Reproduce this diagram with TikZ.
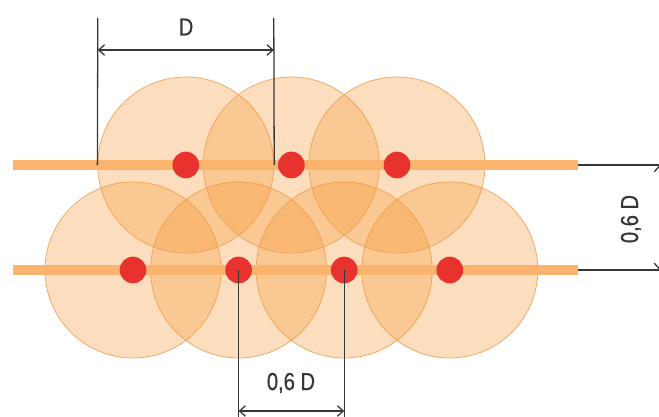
\documentclass[tikz,border=0pt]{standalone}
\usepackage{fontspec}
\setmainfont[FakeStretch=0.82,FakeBold=0.6]{Liberation Sans}
\usetikzlibrary{arrows.meta}
\definecolor{zonecol}{RGB}{246,155,58}
\definecolor{rimcol}{RGB}{238,160,85}
\definecolor{pipecol}{RGB}{250,180,110}
\definecolor{nozzlecol}{RGB}{232,50,45}
\definecolor{dimcol}{RGB}{55,55,55}
\tikzset{
  zone/.style={circle, minimum size=5.28cm, inner sep=0pt, fill=zonecol,
    fill opacity=0.33, draw=rimcol, draw opacity=0.85, line width=0.7pt},
  nozzle/.style={circle, minimum size=0.8cm, inner sep=0pt, fill=nozzlecol},
  pipe/.style={draw=pipecol, line width=0.3cm},
  dimline/.style={draw=dimcol, line width=1.1pt},
  dimarrow/.style={dimline, {Straight Barb[length=5pt,width=9pt]}-{Straight Barb[length=5pt,width=9pt]}},
  dimtext/.style={text=dimcol, inner sep=0pt, font=\fontsize{21}{25}\selectfont}
}
\begin{document}
\begin{tikzpicture}[x=0.03cm,y=-0.03cm]
      \useasboundingbox (0,0) rectangle (659,417);
      % spray zones
      \path
        (133.0,270) node[zone] (z1){}
        (238.6,270) node[zone] (z2){}
        (344.2,270) node[zone] (z3){}
        (449.8,270) node[zone] (z4){}
        (185.8,165) node[zone] (z5){}
        (291.4,165) node[zone] (z6){}
        (397.0,165) node[zone] (z7){};
      % pipes
      \coordinate (p1) at (13,165);
      \coordinate (p2) at (578,165);
      \coordinate (p3) at (13,270);
      \coordinate (p4) at (578,270);
      \draw[pipe] (p1) to (p2);
      \draw[pipe] (p3) to (p4);
      % nozzles
      \path
        (z1.center) node[nozzle] (n1){}
        (z2.center) node[nozzle] (n2){}
        (z3.center) node[nozzle] (n3){}
        (z4.center) node[nozzle] (n4){}
        (z5.center) node[nozzle] (n5){}
        (z6.center) node[nozzle] (n6){}
        (z7.center) node[nozzle] (n7){};
      % dimension D
      \coordinate (d1) at (97.8,18);
      \coordinate (d2) at (273.8,18);
      \coordinate (d3) at (97.8,50);
      \coordinate (d4) at (273.8,50);
      \begin{scope}[dimline]
        \draw (d1) to (z5.west);
        \draw (d2) to (z5.east);
      \end{scope}
      \draw[dimarrow] (d3) to (d4);
      \node[dimtext] (dd) at (186,27) {D};
      % dimension between rows
      \coordinate (r1) at (662,165);
      \coordinate (r2) at (662,270);
      \coordinate (r3) at (659.5,165);
      \coordinate (r4) at (659.5,270);
      \begin{scope}[dimline]
        \draw (p2) to (r1);
        \draw (p4) to (r2);
      \end{scope}
      \draw[dimarrow] (r3) to (r4);
      \node[dimtext, rotate=90] (rd) at (631,219) {0,6 D};
      % dimension between nozzles
      \coordinate (b1) at (238.6,420);
      \coordinate (b2) at (344.2,420);
      \coordinate (b3) at (238.6,411);
      \coordinate (b4) at (344.2,411);
      \begin{scope}[dimline]
        \draw (n2.center) to (b1);
        \draw (n3.center) to (b2);
      \end{scope}
      \draw[dimarrow] (b3) to (b4);
      \node[dimtext] (bd) at (291,383) {0,6 D};
    \end{tikzpicture}
\end{document}
